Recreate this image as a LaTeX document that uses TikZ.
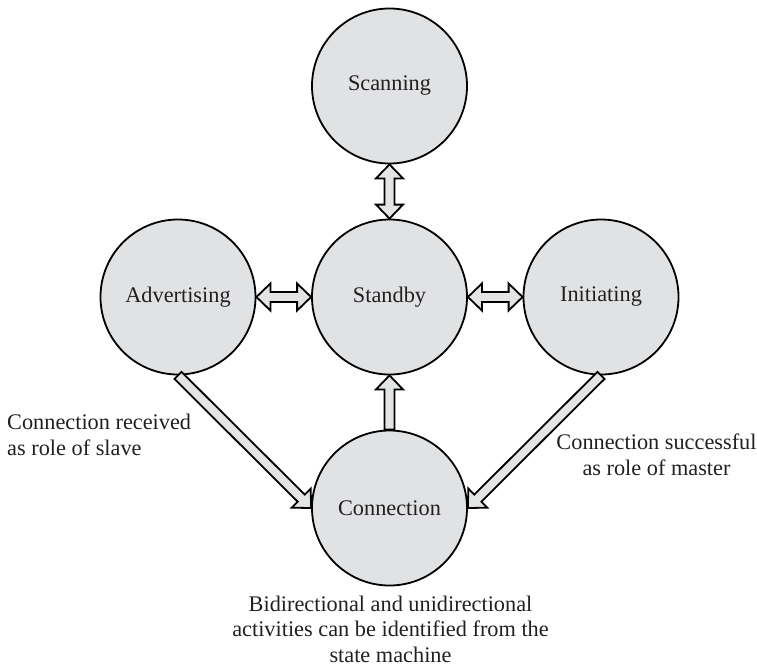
\documentclass[tikz,border=0pt]{standalone}
\usepackage{fontspec}
\setmainfont{Liberation Serif}
\usetikzlibrary{calc}

\definecolor{statefill}{HTML}{E1E2E4}
\definecolor{arrowfill}{HTML}{E3E4E6}
\definecolor{inkcol}{HTML}{231F20}

% dimensions of the block arrows
\newcommand\hlen{14pt}   % head length
\newcommand\hwid{13.5pt} % head half-width
\newcommand\swid{5pt}    % shaft half-width

% block arrow with heads at both ends, from #1 to #2
\newcommand\blockdarrow[2]{%
  \filldraw[blockarrow]
    (#1)
    -- ($(#1)!\hlen!(#2)!\hwid!90:(#2)$)
    -- ($(#1)!\hlen!(#2)!\swid!90:(#2)$)
    -- ($(#2)!\hlen!(#1)!\swid!90:(#2)$)
    -- ($(#2)!\hlen!(#1)!\hwid!90:(#2)$)
    -- (#2)
    -- ($(#2)!\hlen!(#1)!\hwid!-90:(#2)$)
    -- ($(#2)!\hlen!(#1)!\swid!-90:(#2)$)
    -- ($(#1)!\hlen!(#2)!\swid!-90:(#2)$)
    -- ($(#1)!\hlen!(#2)!\hwid!-90:(#2)$)
    -- cycle;}

% block arrow with a single head at #2
\newcommand\blockarrow[2]{%
  \filldraw[blockarrow]
    ($(#1)!\swid!90:(#2)$)
    -- ($(#2)!\hlen!(#1)!\swid!90:(#2)$)
    -- ($(#2)!\hlen!(#1)!\hwid!90:(#2)$)
    -- (#2)
    -- ($(#2)!\hlen!(#1)!\hwid!-90:(#2)$)
    -- ($(#2)!\hlen!(#1)!\swid!-90:(#2)$)
    -- ($(#1)!\swid!-90:(#2)$)
    -- cycle;}

\begin{document}
\begin{tikzpicture}[x=1pt,y=-1pt,
  state/.style={circle,draw=black,fill=statefill,line width=1.8pt,
    minimum size=155pt,inner sep=0pt,text=inkcol,
    font=\fontsize{22.3}{25.5}\selectfont},
  blockarrow/.style={draw=black,fill=arrowfill,line width=1.8pt,line join=miter},
  note/.style={text=inkcol,inner sep=0pt,font=\fontsize{22.3}{25.5}\selectfont}]

\useasboundingbox (0,0) rectangle (757,667);

% states
\node[state] (scan) at (389.5,86)  {Scanning};
\node[state] (stand) at (389.5,297) {Standby};
\node[state] (adv) at (178,297)     {Advertising};
\node[state] (init) at (601,297)    {Initiating};
\node[state] (conn) at (389.5,508)  {Connection};

% transitions
\blockdarrow{scan.south}{stand.north}
\blockdarrow{adv.east}{stand.west}
\blockdarrow{stand.east}{init.west}
\blockarrow{conn.north}{stand.south}
\blockarrow{adv.south}{conn.west}
\blockarrow{init.south}{conn.east}

% annotations (base anchor = baseline of the last line)
\node[note,anchor=base west,align=left] (slave) at (7,455)
  {Connection received\\as role of slave};
\node[note,anchor=base,align=center] (master) at (656.5,475)
  {Connection successful\\as role of master};
\node[note,anchor=base,align=center] (caption) at (390.5,662)
  {Bidirectional and unidirectional\\activities can be identified from the\\state machine};
\end{tikzpicture}
\end{document}
